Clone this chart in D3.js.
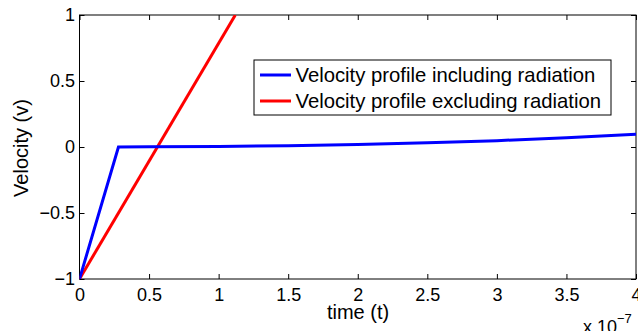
<!DOCTYPE html>
<html><head><meta charset="utf-8">
<script src="https://cdn.jsdelivr.net/npm/d3@7"></script>
<style>body{margin:0;background:#fff}svg{display:block}text{font-family:"Liberation Sans",Arial,sans-serif}</style>
</head><body><svg id="c" width="638" height="331"></svg>
<script>
const blueT = [0, 0.28, 0.5, 1.0, 1.5, 2.0, 2.5, 3.0, 3.5, 4.0];
const blueV = [-1, 0, 0.001, 0.004, 0.01, 0.019, 0.032, 0.048, 0.07, 0.097];
const redT = [0, 1.12];
const redV = [-1, 1];
const xTicks = [0, 0.5, 1, 1.5, 2, 2.5, 3, 3.5, 4];
const yTicks = [-1, -0.5, 0, 0.5, 1];
const seriesNames = ["Velocity profile including radiation", "Velocity profile excluding radiation"];
const colors = ["#0000ff", "#ff0000"];

const svg = d3.select("#c");
const L = 79.5, R = 636, T = 15, B = 279;
const x = d3.scaleLinear().domain([0, 4]).range([L, R]);
const y = d3.scaleLinear().domain([-1, 1]).range([B, T]);

svg.append("defs").append("clipPath").attr("id","clip").append("rect")
  .attr("x", L).attr("y", T).attr("width", R-L).attr("height", B-T);

const fmt = d => d === 0 ? "0" : String(d).replace("-", "\u2212");
const fs = 18, fl = 20, fg = 20.3;
// axes
const gx = svg.append("g").attr("transform", `translate(0,${B})`)
  .call(d3.axisBottom(x).tickValues(xTicks).tickSize(-5).tickPadding(9).tickFormat(fmt));
const gxt = svg.append("g").attr("transform", `translate(0,${T})`)
  .call(d3.axisTop(x).tickValues(xTicks).tickSize(-5).tickFormat(""));
const gy = svg.append("g").attr("transform", `translate(${L},0)`)
  .call(d3.axisLeft(y).tickValues(yTicks).tickSize(-5).tickPadding(4.5).tickFormat(fmt));
const gyr = svg.append("g").attr("transform", `translate(${R},0)`)
  .call(d3.axisRight(y).tickValues(yTicks).tickSize(-5).tickFormat(""));
[gx,gxt,gy,gyr].forEach(g=>{
  g.select(".domain").remove();
  g.selectAll("line").attr("stroke","#000").attr("stroke-width",1);
  g.selectAll("text").attr("font-size",fs).attr("font-family","Liberation Sans, Arial, sans-serif").attr("fill","#000");
});
svg.append("rect").attr("x",L).attr("y",T).attr("width",R-L).attr("height",B-T)
  .attr("fill","none").attr("stroke","#000").attr("stroke-width",1);

const line = d3.line().x(d=>x(d[0])).y(d=>y(d[1]));
const plot = svg.append("g").attr("clip-path","url(#clip)");
plot.append("path").datum(redT.map((t,i)=>[t,redV[i]])).attr("d",line)
  .attr("fill","none").attr("stroke",colors[1]).attr("stroke-width",3);
plot.append("path").datum(blueT.map((t,i)=>[t,blueV[i]])).attr("d",line)
  .attr("fill","none").attr("stroke",colors[0]).attr("stroke-width",3);

// labels
svg.append("text").attr("x",358).attr("y",319).attr("text-anchor","middle")
  .attr("font-size",fl).text("time (t)");
svg.append("text").attr("transform",`translate(28,148) rotate(-90)`)
  .attr("text-anchor","middle").attr("font-size",fl).text("Velocity (v)");
const ex = svg.append("text").attr("x",583).attr("y",333).attr("font-size",fs);
ex.append("tspan").text("x 10");
ex.append("tspan").attr("dy",-10).attr("font-size",13).text("\u22127");

// legend
const lg = svg.append("g");
lg.append("rect").attr("x",254).attr("y",60).attr("width",357).attr("height",55)
  .attr("fill","#fff").attr("stroke","#000").attr("stroke-width",1);
seriesNames.forEach((n,i)=>{
  const yy = 75 + i*26;
  lg.append("line").attr("x1",260).attr("x2",291).attr("y1",yy).attr("y2",yy)
    .attr("stroke",colors[i]).attr("stroke-width",3);
  lg.append("text").attr("x",295.5).attr("y",yy).attr("dy","0.35em").attr("font-size",fg).text(n);
});
</script></body></html>
